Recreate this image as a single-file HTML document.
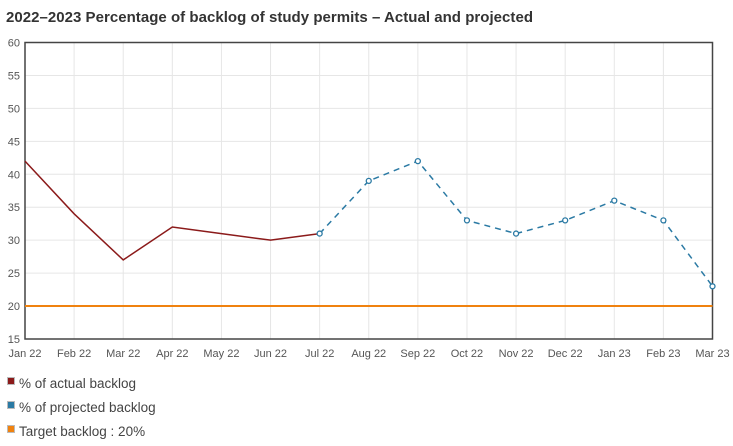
<!DOCTYPE html>
<html><head><meta charset="utf-8"><style>
body{margin:0;background:#fff;width:733px;height:441px;overflow:hidden;font-family:"Liberation Sans",sans-serif}
</style></head><body>
<svg width="733" height="441">
<text x="6" y="22" font-size="15" font-weight="bold" fill="#333" textLength="527">2022–2023 Percentage of backlog of study permits – Actual and projected</text>
<g id="grid"></g><g id="axes"></g><g id="series"></g><g id="legend"></g>
</svg>
<script>
const categories=["Jan 22","Feb 22","Mar 22","Apr 22","May 22","Jun 22","Jul 22","Aug 22","Sep 22","Oct 22","Nov 22","Dec 22","Jan 23","Feb 23","Mar 23"];
const actual=[42,34,27,32,31,30,31,null,null,null,null,null,null,null,null];
const projected=[null,null,null,null,null,null,31,39,42,33,31,33,36,33,23];
const target=[20,20,20,20,20,20,20,20,20,20,20,20,20,20,20];
const yTicks=[15,20,25,30,35,40,45,50,55,60];
const L=25,R=712.5,T=42.5,B=339,ymin=15,ymax=60;
const NS="http://www.w3.org/2000/svg";
const x=i=>L+i*(R-L)/(categories.length-1);
const y=v=>B-(v-ymin)*(B-T)/(ymax-ymin);
function mk(tag,attrs,parent){const e=document.createElementNS(NS,tag);for(const k in attrs)e.setAttribute(k,attrs[k]);document.getElementById(parent).appendChild(e);return e;}
yTicks.forEach(v=>{
 const g=mk('line',{x1:L,x2:R,y1:y(v),y2:y(v),stroke:'#e6e6e6'},'grid');
 
 
 const t=mk('text',{x:20,y:y(v)+4,'font-size':11,fill:'#555','text-anchor':'end'},'axes');t.textContent=v;
 
 
});
categories.forEach((c,i)=>{
 const g=mk('line',{x1:x(i),x2:x(i),y1:T,y2:B,stroke:'#e6e6e6'},'grid');
 
 
 const t=mk('text',{x:x(i),y:357,'font-size':11,fill:'#555','text-anchor':'middle'},'axes');t.textContent=c;
 
 
});
const frame=mk('rect',{x:L,y:T,width:R-L,height:B-T,fill:'none',stroke:'#444','stroke-width':1.5},'axes');


function path(arr){let d='';arr.forEach((v,i)=>{if(v!=null)d+=(d?'L':'M')+x(i)+','+y(v);});return d;}
const tl=mk('path',{d:path(target),fill:'none',stroke:'#f0820f','stroke-width':2},'series');


const al=mk('path',{d:path(actual),fill:'none',stroke:'#8b1a1a','stroke-width':1.5},'series');


const pl=mk('path',{d:path(projected),fill:'none',stroke:'#2b7aa4','stroke-width':1.5,'stroke-dasharray':'6,5'},'series');


projected.forEach((v,i)=>{if(v==null)return;
 const c=mk('circle',{cx:x(i),cy:y(v),r:2.5,fill:'#fff',stroke:'#2b7aa4','stroke-width':1.3},'series');
 
 
});
const leg=[["% of actual backlog","#8b1a1a"],["% of projected backlog","#2b7aa4"],["Target backlog : 20%","#f0820f"]];
leg.forEach((l,i)=>{const yy=383+i*24;
 const r=mk('rect',{x:7.5,y:yy-5.5,width:7,height:7,fill:l[1],stroke:'#bbb','stroke-width':1},'legend');
 
 
 const t=mk('text',{x:19,y:yy+5,'font-size':13.5,fill:'#444'},'legend');t.textContent=l[0];
 
 
});
</script>
</body></html>
